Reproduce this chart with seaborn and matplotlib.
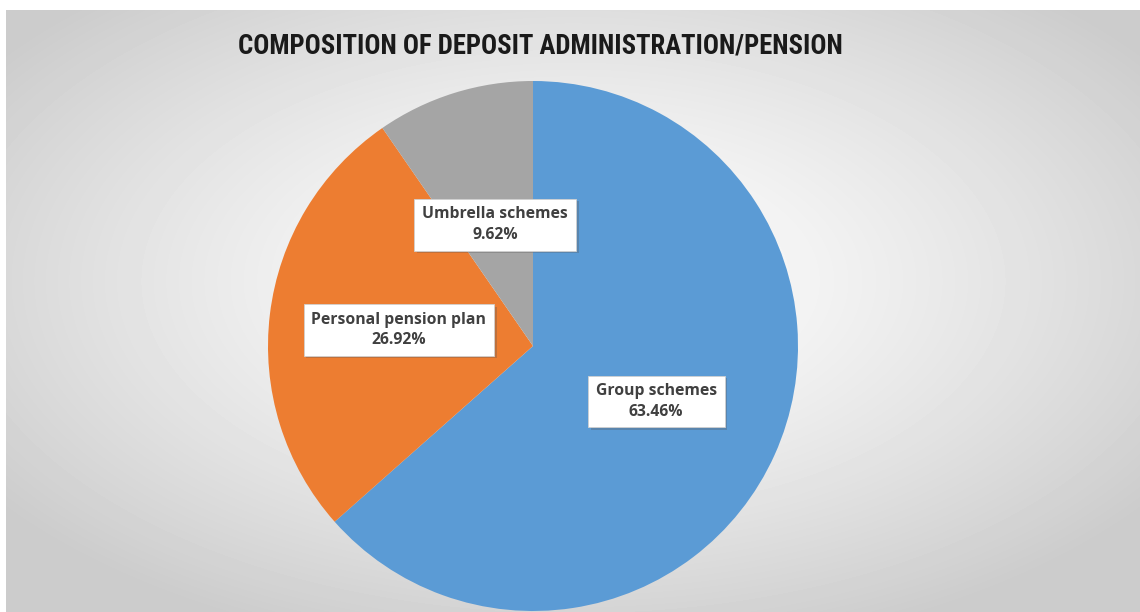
import numpy as np
import matplotlib
matplotlib.use("Agg")
import matplotlib.pyplot as plt
import matplotlib.patheffects as pe
import seaborn as sns

sns.set_theme(style="white")
plt.rcParams["font.family"] = ["Open Sans", "DejaVu Sans"]

# Data
categories = ["Group schemes", "Personal pension plan", "Umbrella schemes"]
shares = [63.46, 26.92, 9.62]
colors = ["#5B9BD5", "#ED7D31", "#A5A5A5"]
title = "COMPOSITION OF DEPOSIT ADMINISTRATION/PENSION"

W, H = 1140, 612
fig = plt.figure(figsize=(W / 100, H / 100), dpi=100)
fig.patch.set_facecolor("white")

# Chart area background: soft radial gradient, white centre fading to grey
bg = fig.add_axes([6 / W, 0, (W - 6) / W, (H - 10) / H])
bg.set_axis_off()
yy, xx = np.mgrid[0:H - 10, 0:W - 6]
cx, cy = (W - 6) * 0.5, (H - 10) * 0.45
d = np.sqrt(((xx - cx) / (W * 0.62)) ** 2 + ((yy - cy) / (H * 0.62)) ** 2)
d = np.clip(d, 0, 1)
shade = 1.0 - 0.20 * d ** 1.3
bg.imshow(shade, cmap="gray", vmin=0, vmax=1, aspect="auto",
          extent=[0, 1, 0, 1], interpolation="bilinear")
bg.set_xlim(0, 1)
bg.set_ylim(0, 1)

# Pie axes: centre (533, 346) px from top, radius 265 px
r_px = 265
cxp, cyp = 533, 346
ax = fig.add_axes([(cxp - r_px) / W, (H - cyp - r_px) / H, 2 * r_px / W, 2 * r_px / H])
wedges, _ = ax.pie(shares, colors=colors, startangle=90, counterclock=False,
                   radius=1.0, wedgeprops=dict(linewidth=0))
ax.set_axis_off()
ax.set_xlim(-1, 1)
ax.set_ylim(-1, 1)
ax.set_aspect("equal")
for w in wedges:
    w.set_clip_on(False)

# Data labels inside each slice, in white boxes
label_r = [0.51, 0.51, 0.48]
for w, name, val, r in zip(wedges, categories, shares, label_r):
    mid = np.deg2rad((w.theta1 + w.theta2) / 2)
    x, y = r * np.cos(mid), r * np.sin(mid)
    t = ax.text(x, y, f"{name}\n{val:.2f}%", ha="center", va="center",
                fontsize=11.3, fontweight="bold", color="#404040", linespacing=1.35,
                bbox=dict(boxstyle="square,pad=0.5", facecolor="white",
                          edgecolor="#d0d0d0", linewidth=0.6))
    t.get_bbox_patch().set_path_effects(
        [pe.SimplePatchShadow(offset=(2, -2), shadow_rgbFace="#555555", alpha=0.3),
         pe.Normal()])

fig.text(540 / W, 1 - 46 / H, title, ha="center", va="center",
         fontsize=19.2, fontweight="bold", color="#1a1a1a",
         family=["Roboto Condensed", "Roboto", "DejaVu Sans"])

fig.savefig("out.png", dpi=100)
